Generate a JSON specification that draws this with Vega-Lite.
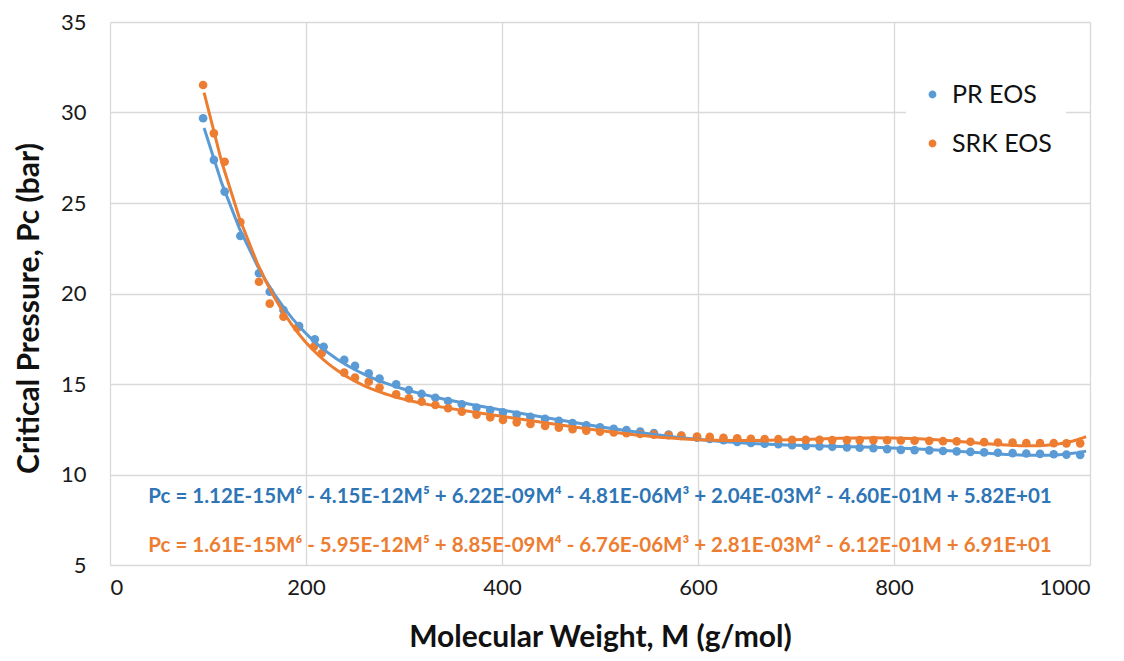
{
  "$schema": "https://vega.github.io/schema/vega-lite/v6.json",
  "width": 980,
  "height": 543,
  "autosize": "none",
  "padding": {"left": 110, "top": 22, "right": 34, "bottom": 96},
  "background": "white",
  "config": {
    "font": "Lato",
    "view": {"stroke": null},
    "axis": {
      "grid": true,
      "gridColor": "#d9d9d9",
      "gridWidth": 1.3,
      "domain": false,
      "ticks": false,
      "labelFontSize": 22,
      "labelColor": "#1a1a1a",
      "labelFont": "Lato",
      "titleFont": "Lato",
      "titleFontSize": 30,
      "titleFontWeight": "bold",
      "titleColor": "#111111"
    }
  },
  "datasets": {
    "pts": [
      {"M": 95, "Pc": 29.68, "series": "PR EOS"},
      {"M": 106, "Pc": 27.38, "series": "PR EOS"},
      {"M": 117, "Pc": 25.63, "series": "PR EOS"},
      {"M": 133, "Pc": 23.18, "series": "PR EOS"},
      {"M": 152, "Pc": 21.12, "series": "PR EOS"},
      {"M": 163, "Pc": 20.1, "series": "PR EOS"},
      {"M": 177, "Pc": 19.09, "series": "PR EOS"},
      {"M": 193, "Pc": 18.2, "series": "PR EOS"},
      {"M": 209, "Pc": 17.47, "series": "PR EOS"},
      {"M": 218, "Pc": 17.06, "series": "PR EOS"},
      {"M": 239, "Pc": 16.33, "series": "PR EOS"},
      {"M": 250, "Pc": 16.0, "series": "PR EOS"},
      {"M": 264, "Pc": 15.59, "series": "PR EOS"},
      {"M": 275, "Pc": 15.3, "series": "PR EOS"},
      {"M": 292, "Pc": 14.98, "series": "PR EOS"},
      {"M": 305, "Pc": 14.67, "series": "PR EOS"},
      {"M": 318, "Pc": 14.45, "series": "PR EOS"},
      {"M": 332, "Pc": 14.24, "series": "PR EOS"},
      {"M": 345, "Pc": 14.06, "series": "PR EOS"},
      {"M": 359, "Pc": 13.88, "series": "PR EOS"},
      {"M": 374, "Pc": 13.7, "series": "PR EOS"},
      {"M": 388, "Pc": 13.56, "series": "PR EOS"},
      {"M": 401, "Pc": 13.43, "series": "PR EOS"},
      {"M": 415, "Pc": 13.31, "series": "PR EOS"},
      {"M": 429, "Pc": 13.19, "series": "PR EOS"},
      {"M": 444, "Pc": 13.08, "series": "PR EOS"},
      {"M": 458, "Pc": 12.96, "series": "PR EOS"},
      {"M": 472, "Pc": 12.84, "series": "PR EOS"},
      {"M": 486, "Pc": 12.72, "series": "PR EOS"},
      {"M": 500, "Pc": 12.61, "series": "PR EOS"},
      {"M": 514, "Pc": 12.53, "series": "PR EOS"},
      {"M": 527, "Pc": 12.45, "series": "PR EOS"},
      {"M": 541, "Pc": 12.37, "series": "PR EOS"},
      {"M": 555, "Pc": 12.29, "series": "PR EOS"},
      {"M": 570, "Pc": 12.21, "series": "PR EOS"},
      {"M": 583, "Pc": 12.13, "series": "PR EOS"},
      {"M": 599, "Pc": 12.04, "series": "PR EOS"},
      {"M": 612, "Pc": 11.97, "series": "PR EOS"},
      {"M": 626, "Pc": 11.89, "series": "PR EOS"},
      {"M": 640, "Pc": 11.8, "series": "PR EOS"},
      {"M": 654, "Pc": 11.74, "series": "PR EOS"},
      {"M": 668, "Pc": 11.7, "series": "PR EOS"},
      {"M": 682, "Pc": 11.67, "series": "PR EOS"},
      {"M": 696, "Pc": 11.62, "series": "PR EOS"},
      {"M": 710, "Pc": 11.58, "series": "PR EOS"},
      {"M": 724, "Pc": 11.55, "series": "PR EOS"},
      {"M": 737, "Pc": 11.53, "series": "PR EOS"},
      {"M": 752, "Pc": 11.5, "series": "PR EOS"},
      {"M": 765, "Pc": 11.48, "series": "PR EOS"},
      {"M": 779, "Pc": 11.46, "series": "PR EOS"},
      {"M": 793, "Pc": 11.4, "series": "PR EOS"},
      {"M": 807, "Pc": 11.36, "series": "PR EOS"},
      {"M": 821, "Pc": 11.35, "series": "PR EOS"},
      {"M": 836, "Pc": 11.33, "series": "PR EOS"},
      {"M": 850, "Pc": 11.3, "series": "PR EOS"},
      {"M": 864, "Pc": 11.28, "series": "PR EOS"},
      {"M": 878, "Pc": 11.25, "series": "PR EOS"},
      {"M": 892, "Pc": 11.22, "series": "PR EOS"},
      {"M": 906, "Pc": 11.2, "series": "PR EOS"},
      {"M": 921, "Pc": 11.18, "series": "PR EOS"},
      {"M": 935, "Pc": 11.16, "series": "PR EOS"},
      {"M": 949, "Pc": 11.14, "series": "PR EOS"},
      {"M": 963, "Pc": 11.12, "series": "PR EOS"},
      {"M": 976, "Pc": 11.1, "series": "PR EOS"},
      {"M": 990, "Pc": 11.08, "series": "PR EOS"},
      {"M": 95, "Pc": 31.52, "series": "SRK EOS"},
      {"M": 106, "Pc": 28.85, "series": "SRK EOS"},
      {"M": 117, "Pc": 27.28, "series": "SRK EOS"},
      {"M": 133, "Pc": 23.95, "series": "SRK EOS"},
      {"M": 152, "Pc": 20.65, "series": "SRK EOS"},
      {"M": 163, "Pc": 19.44, "series": "SRK EOS"},
      {"M": 177, "Pc": 18.72, "series": "SRK EOS"},
      {"M": 191, "Pc": 18.1, "series": "SRK EOS"},
      {"M": 208, "Pc": 17.06, "series": "SRK EOS"},
      {"M": 216, "Pc": 16.7, "series": "SRK EOS"},
      {"M": 239, "Pc": 15.63, "series": "SRK EOS"},
      {"M": 250, "Pc": 15.35, "series": "SRK EOS"},
      {"M": 264, "Pc": 15.13, "series": "SRK EOS"},
      {"M": 275, "Pc": 14.8, "series": "SRK EOS"},
      {"M": 292, "Pc": 14.43, "series": "SRK EOS"},
      {"M": 305, "Pc": 14.21, "series": "SRK EOS"},
      {"M": 318, "Pc": 14.02, "series": "SRK EOS"},
      {"M": 332, "Pc": 13.84, "series": "SRK EOS"},
      {"M": 345, "Pc": 13.66, "series": "SRK EOS"},
      {"M": 359, "Pc": 13.47, "series": "SRK EOS"},
      {"M": 374, "Pc": 13.3, "series": "SRK EOS"},
      {"M": 388, "Pc": 13.16, "series": "SRK EOS"},
      {"M": 401, "Pc": 13.01, "series": "SRK EOS"},
      {"M": 415, "Pc": 12.88, "series": "SRK EOS"},
      {"M": 429, "Pc": 12.79, "series": "SRK EOS"},
      {"M": 444, "Pc": 12.68, "series": "SRK EOS"},
      {"M": 458, "Pc": 12.59, "series": "SRK EOS"},
      {"M": 472, "Pc": 12.5, "series": "SRK EOS"},
      {"M": 486, "Pc": 12.42, "series": "SRK EOS"},
      {"M": 500, "Pc": 12.37, "series": "SRK EOS"},
      {"M": 514, "Pc": 12.33, "series": "SRK EOS"},
      {"M": 527, "Pc": 12.28, "series": "SRK EOS"},
      {"M": 541, "Pc": 12.24, "series": "SRK EOS"},
      {"M": 555, "Pc": 12.2, "series": "SRK EOS"},
      {"M": 570, "Pc": 12.17, "series": "SRK EOS"},
      {"M": 583, "Pc": 12.15, "series": "SRK EOS"},
      {"M": 599, "Pc": 12.1, "series": "SRK EOS"},
      {"M": 612, "Pc": 12.08, "series": "SRK EOS"},
      {"M": 626, "Pc": 12.03, "series": "SRK EOS"},
      {"M": 640, "Pc": 12.0, "series": "SRK EOS"},
      {"M": 654, "Pc": 11.97, "series": "SRK EOS"},
      {"M": 668, "Pc": 11.96, "series": "SRK EOS"},
      {"M": 682, "Pc": 11.95, "series": "SRK EOS"},
      {"M": 696, "Pc": 11.92, "series": "SRK EOS"},
      {"M": 710, "Pc": 11.91, "series": "SRK EOS"},
      {"M": 724, "Pc": 11.91, "series": "SRK EOS"},
      {"M": 737, "Pc": 11.9, "series": "SRK EOS"},
      {"M": 752, "Pc": 11.9, "series": "SRK EOS"},
      {"M": 765, "Pc": 11.9, "series": "SRK EOS"},
      {"M": 779, "Pc": 11.9, "series": "SRK EOS"},
      {"M": 793, "Pc": 11.89, "series": "SRK EOS"},
      {"M": 807, "Pc": 11.88, "series": "SRK EOS"},
      {"M": 821, "Pc": 11.87, "series": "SRK EOS"},
      {"M": 836, "Pc": 11.86, "series": "SRK EOS"},
      {"M": 850, "Pc": 11.84, "series": "SRK EOS"},
      {"M": 864, "Pc": 11.83, "series": "SRK EOS"},
      {"M": 878, "Pc": 11.81, "series": "SRK EOS"},
      {"M": 892, "Pc": 11.79, "series": "SRK EOS"},
      {"M": 906, "Pc": 11.77, "series": "SRK EOS"},
      {"M": 921, "Pc": 11.76, "series": "SRK EOS"},
      {"M": 935, "Pc": 11.74, "series": "SRK EOS"},
      {"M": 949, "Pc": 11.74, "series": "SRK EOS"},
      {"M": 963, "Pc": 11.73, "series": "SRK EOS"},
      {"M": 976, "Pc": 11.72, "series": "SRK EOS"},
      {"M": 990, "Pc": 11.72, "series": "SRK EOS"}
    ],
    "eq": [
      {"M": 500, "Pc": 8.76, "series": "PR EOS", "label": "Pc = 1.12E-15M⁶ - 4.15E-12M⁵ + 6.22E-09M⁴ - 4.81E-06M³ + 2.04E-03M² - 4.60E-01M + 5.82E+01"},
      {"M": 500, "Pc": 6.05, "series": "SRK EOS", "label": "Pc = 1.61E-15M⁶ - 5.95E-12M⁵ + 8.85E-09M⁴ - 6.76E-06M³ + 2.81E-03M² - 6.12E-01M + 6.91E+01"}
    ]
  },
  "layer": [
    {
      "data": {"name": "pts"},
      "mark": {"type": "circle", "size": 75, "opacity": 1},
      "encoding": {
        "x": {
          "field": "M", "type": "quantitative",
          "scale": {"domain": [0, 1000], "nice": false},
          "axis": {"values": [0, 200, 400, 600, 800, 1000], "format": "d", "labelPadding": 12, "titlePadding": 24, "title": "Molecular Weight, M (g/mol)"}
        },
        "y": {
          "field": "Pc", "type": "quantitative",
          "scale": {"domain": [5, 35], "nice": false, "zero": false},
          "axis": {"values": [5, 10, 15, 20, 25, 30, 35], "labelPadding": 24, "titlePadding": 16, "titleY": 286, "title": "Critical Pressure, Pc (bar)"}
        },
        "color": {
          "field": "series", "type": "nominal",
          "scale": {"domain": ["PR EOS", "SRK EOS"], "range": ["#5B9BD5", "#ED7D31"]},
          "legend": {
            "title": null,
            "orient": "none",
            "legendX": 796,
            "legendY": 46,
            "padding": 14,
            "fillColor": "white",
            "symbolType": "circle",
            "symbolSize": 40,
            "labelFontSize": 25,
            "labelFont": "Lato",
            "labelColor": "#111111",
            "labelOffset": 7,
            "rowPadding": 23
          }
        }
      }
    },
    {
      "data": {"name": "pts"},
      "transform": [
        {"regression": "Pc", "on": "M", "groupby": ["series"], "method": "poly", "order": 6, "extent": [96, 996]}
      ],
      "mark": {"type": "line", "strokeWidth": 3},
      "encoding": {
        "x": {"field": "M", "type": "quantitative"},
        "y": {"field": "Pc", "type": "quantitative"},
        "color": {"field": "series", "type": "nominal", "legend": null}
      }
    },
    {
      "data": {"name": "eq"},
      "transform": [{"filter": "datum.series === 'PR EOS'"}],
      "mark": {"type": "text", "font": "Lato", "fontWeight": "bold", "fontSize": 20.5, "color": "#2E75B6", "align": "center", "baseline": "middle"},
      "encoding": {
        "x": {"field": "M", "type": "quantitative"},
        "y": {"field": "Pc", "type": "quantitative"},
        "text": {"field": "label"}
      }
    },
    {
      "data": {"name": "eq"},
      "transform": [{"filter": "datum.series === 'SRK EOS'"}],
      "mark": {"type": "text", "font": "Lato", "fontWeight": "bold", "fontSize": 20.5, "color": "#ED7D31", "align": "center", "baseline": "middle"},
      "encoding": {
        "x": {"field": "M", "type": "quantitative"},
        "y": {"field": "Pc", "type": "quantitative"},
        "text": {"field": "label"}
      }
    }
  ]
}
